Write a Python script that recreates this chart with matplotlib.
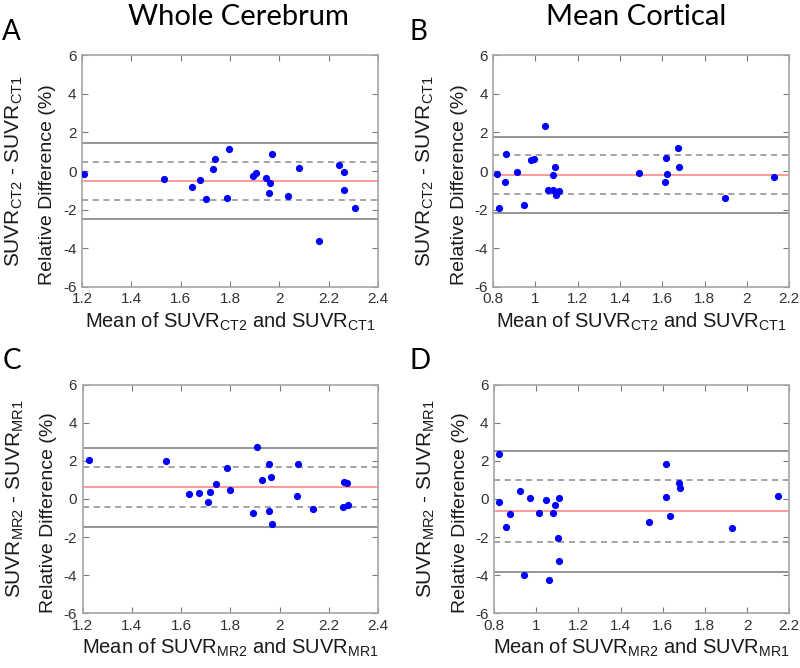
import numpy as np
import matplotlib
matplotlib.use("Agg")
import matplotlib.pyplot as plt
from matplotlib.ticker import FuncFormatter

plt.rcParams['font.family'] = ['Liberation Sans', 'DejaVu Sans']
plt.rcParams['mathtext.default'] = 'regular'

# --- data ---
# A: whole cerebrum, CT
a_x = [1.209, 1.534, 1.644, 1.677, 1.703, 1.733, 1.741, 1.787, 1.795, 1.894, 1.906,
       1.946, 1.962, 1.958, 1.970, 2.037, 2.078, 2.159, 2.242, 2.262, 2.261, 2.307]
a_y = [-0.18, -0.41, -0.82, -0.49, -1.46, 0.13, 0.61, -1.39, 1.12, -0.25, -0.10,
       -0.35, -0.60, -1.12, 0.86, -1.32, 0.18, -3.65, 0.29, -0.06, -1.00, -1.90]
a_bias, a_sd1, a_loa = -0.53, (-1.53, 0.49), (-2.50, 1.45)

# B: mean cortical, CT
b_x = [0.820, 0.828, 0.856, 0.862, 0.914, 0.944, 0.978, 0.991, 1.047, 1.061, 1.081,
       1.084, 1.092, 1.098, 1.113, 1.491, 1.611, 1.616, 1.623, 1.673, 1.678, 1.895, 2.127]
b_y = [-0.16, -1.93, -0.58, 0.86, -0.04, -1.74, 0.56, 0.63, 2.33, -1.01, -1.01,
       -0.20, 0.23, -1.22, -1.03, -0.10, -0.56, 0.65, -0.16, 1.17, 0.20, -1.39, -0.30]
b_bias, b_sd1, b_loa = -0.20, (-1.20, 0.81), (-2.17, 1.76)

# C: whole cerebrum, MR
c_x = [1.227, 1.538, 1.633, 1.672, 1.710, 1.719, 1.741, 1.786, 1.797, 1.893, 1.908,
       1.929, 1.959, 1.959, 1.967, 1.970, 2.070, 2.075, 2.136, 2.258, 2.261, 2.273, 2.280]
c_y = [2.03, 1.98, 0.28, 0.31, -0.14, 0.38, 0.78, 1.63, 0.47, -0.75, 2.75,
       0.99, 1.86, -0.63, 1.15, -1.30, 0.17, 1.83, -0.52, -0.42, 0.90, 0.83, -0.33]
c_bias, c_sd1, c_loa = 0.63, (-0.42, 1.67), (-1.45, 2.70)

# D: mean cortical, MR
d_x = [0.822, 0.822, 0.855, 0.876, 0.922, 0.942, 0.969, 1.015, 1.047, 1.059, 1.082,
       1.091, 1.105, 1.108, 1.110, 1.533, 1.617, 1.617, 1.636, 1.678, 1.684, 1.930, 2.145]
d_y = [2.35, -0.14, -1.46, -0.80, 0.40, -3.97, 0.07, -0.71, -0.03, -4.28, -0.73,
       -0.33, -2.03, 0.05, -3.27, -1.23, 1.86, 0.12, -0.87, 0.85, 0.59, -1.53, 0.14]
d_bias, d_sd1, d_loa = -0.63, (-2.28, 0.99), (-3.81, 2.54)

y_ticks = [-6, -4, -2, 0, 2, 4, 6]
xt_whole = [1.2, 1.4, 1.6, 1.8, 2.0, 2.2, 2.4]
xt_cort = [0.8, 1.0, 1.2, 1.4, 1.6, 1.8, 2.0, 2.2]

col_titles = ['Whole Cerebrum', 'Mean Cortical']
panel_letters = ['A', 'B', 'C', 'D']


def ba_panel(ax, x, y, bias, sd1, loa, xticks, mod):
    ax.axhline(loa[0], color='#8c8c8c', lw=1.3, zorder=1)
    ax.axhline(loa[1], color='#8c8c8c', lw=1.3, zorder=1)
    ax.axhline(sd1[0], color='#8c8c8c', lw=1.1, ls=(0, (4, 3)), zorder=1)
    ax.axhline(sd1[1], color='#8c8c8c', lw=1.1, ls=(0, (4, 3)), zorder=1)
    ax.axhline(bias, color='#ff8080', lw=1.1, zorder=1)
    ax.plot(x, y, 'o', color='#0000ff', ms=5.2, mec='none', zorder=3)

    ax.set_xlim(xticks[0], xticks[-1])
    ax.set_ylim(-6, 6)
    ax.set_xticks(xticks)
    ax.set_yticks(y_ticks)
    ax.xaxis.set_major_formatter(FuncFormatter(lambda v, p: '%g' % round(v, 2)))
    ax.yaxis.set_major_formatter(FuncFormatter(lambda v, p: '%g' % v))
    ax.tick_params(direction='in', top=True, right=True, length=4, width=0.8,
                   color='#7a7a7a', labelsize=11, labelcolor='#333333', pad=4)
    for s in ax.spines.values():
        s.set_color('#a6a6a6')
        s.set_linewidth(1.2)

    ax.set_xlabel('Mean of SUVR$_{%s2}$ and SUVR$_{%s1}$' % (mod, mod),
                  fontsize=14.5, color='#1a1a1a', labelpad=3)
    # two-line y label, first line a bit larger as in the original
    ax.text(-0.228, 0.5, 'SUVR$_{%s2}$ - SUVR$_{%s1}$' % (mod, mod), transform=ax.transAxes,
            rotation=90, ha='center', va='center', fontsize=15, color='#1a1a1a')
    ax.text(-0.115, 0.44, 'Relative Difference (%)', transform=ax.transAxes,
            rotation=90, ha='center', va='center', fontsize=14, color='#1a1a1a')


fig = plt.figure(figsize=(8.0, 6.68), dpi=100)
axA = fig.add_axes([0.1025, 0.571, 0.370, 0.346])
axB = fig.add_axes([0.6165, 0.571, 0.370, 0.346])
axC = fig.add_axes([0.1034, 0.082, 0.369, 0.342])
axD = fig.add_axes([0.6175, 0.082, 0.369, 0.342])

ba_panel(axA, a_x, a_y, a_bias, a_sd1, a_loa, xt_whole, 'CT')
ba_panel(axB, b_x, b_y, b_bias, b_sd1, b_loa, xt_cort, 'CT')
ba_panel(axC, c_x, c_y, c_bias, c_sd1, c_loa, xt_whole, 'MR')
ba_panel(axD, d_x, d_y, d_bias, d_sd1, d_loa, xt_cort, 'MR')

# column titles and panel letters
fig.text(0.298, 0.974, col_titles[0], fontsize=21, family=['Lato', 'DejaVu Sans'],
         ha='center', va='center')
fig.text(0.795, 0.974, col_titles[1], fontsize=21, family=['Lato', 'DejaVu Sans'],
         ha='center', va='center')
for ax, lab, xpos in zip([axA, axB, axC, axD], panel_letters, [0.003, 0.512, 0.003, 0.512]):
    ypos = ax.get_position().y1 + 0.035
    fig.text(xpos, ypos, lab, fontsize=20, family=['Lato', 'DejaVu Sans'],
             ha='left', va='center')

fig.savefig('out.png', dpi=100)
